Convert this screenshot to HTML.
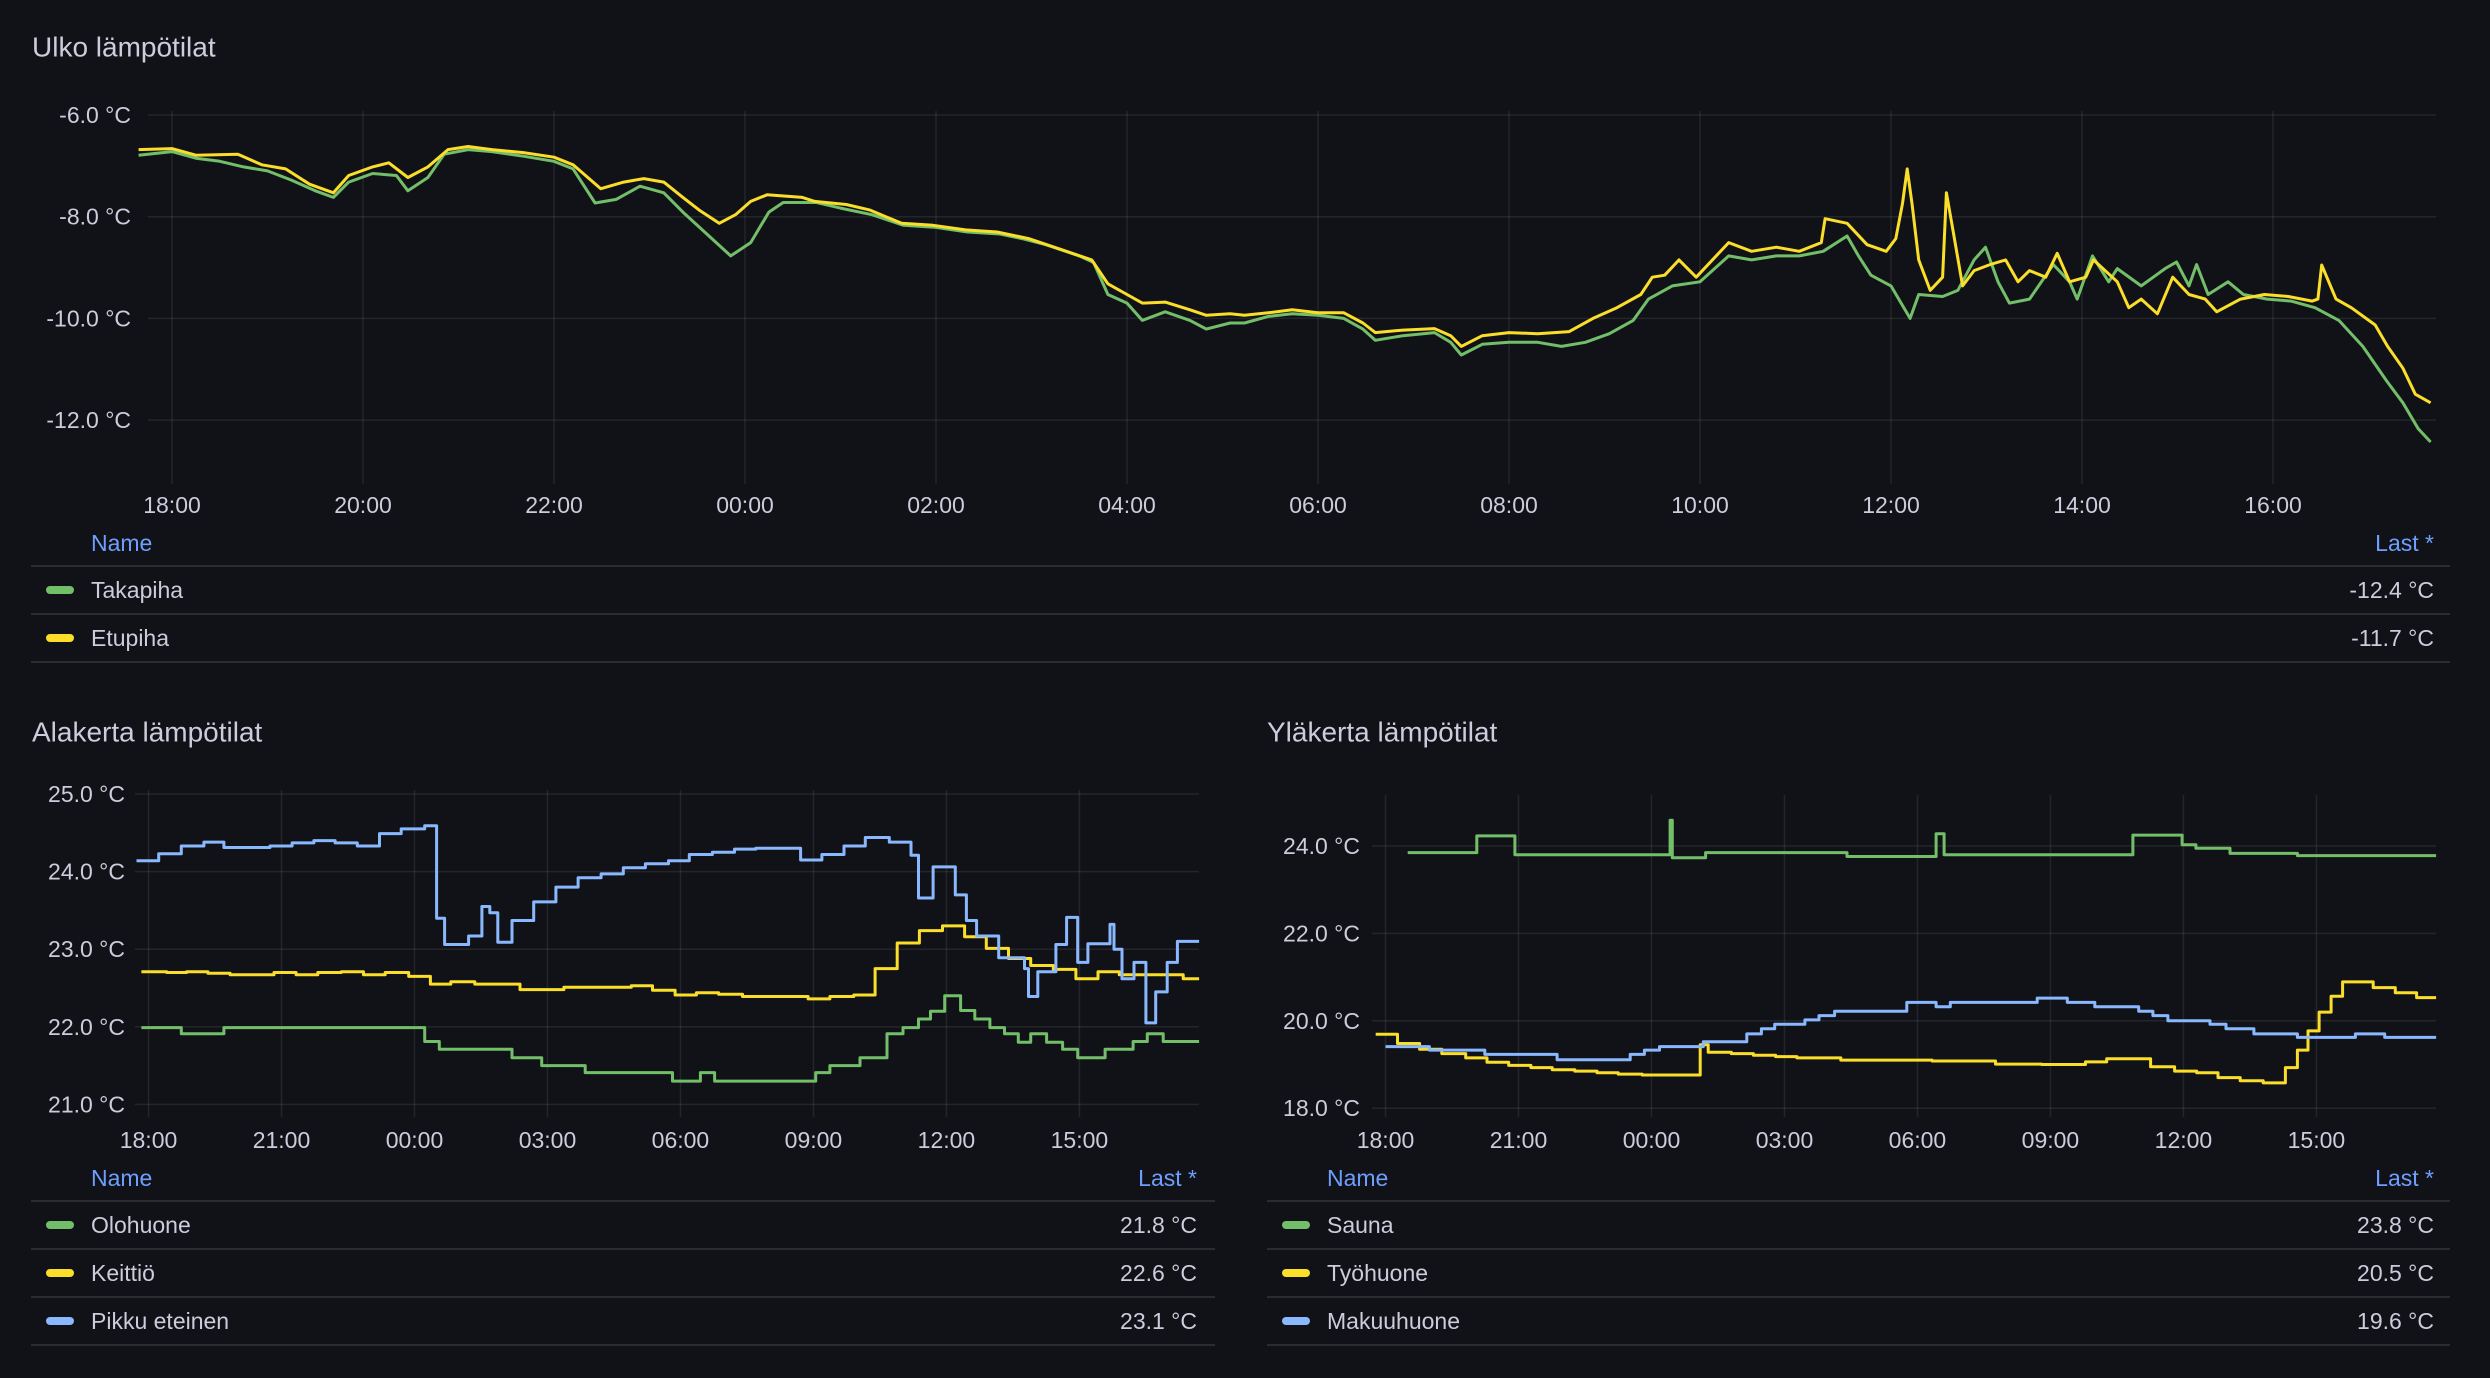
<!DOCTYPE html>
<html><head><meta charset="utf-8">
<style>
html,body{margin:0;padding:0;background:#111217;}
svg{display:block;font-family:"Liberation Sans",sans-serif;}
</style></head>
<body>
<svg id="root" width="2490" height="1378" viewBox="0 0 2490 1378" xmlns="http://www.w3.org/2000/svg">
<rect x="0" y="0" width="2490" height="1378" fill="#111217"/>
</svg>
<script>
// ---------- Data (hours since 18:00, value °C) ----------
const xTickLabelsTop = ["18:00","20:00","22:00","00:00","02:00","04:00","06:00","08:00","10:00","12:00","14:00","16:00"];
const yTicksTop = [-6,-8,-10,-12];
const takapihaH = [-0.35,0,0.25,0.5,0.75,1.0,1.25,1.5,1.69,1.85,2.1,2.35,2.47,2.68,2.85,3.1,3.35,3.68,4.0,4.2,4.43,4.65,4.9,5.15,5.35,5.6,5.85,6.06,6.25,6.4,6.75,7.0,7.33,7.66,8.0,8.33,8.67,8.9,9.15,9.5,9.65,9.8,10.0,10.16,10.4,10.66,10.83,11.08,11.23,11.48,11.73,12.0,12.27,12.47,12.6,12.89,13.22,13.39,13.5,13.72,14.0,14.3,14.55,14.8,15.05,15.3,15.46,15.71,16.0,16.3,16.54,16.8,17.04,17.29,17.54,17.66,17.79,18.0,18.2,18.29,18.54,18.7,18.87,18.99,19.12,19.24,19.45,19.7,19.87,19.95,20.11,20.28,20.37,20.62,20.87,20.99,21.12,21.2,21.32,21.53,21.69,21.94,22.19,22.44,22.69,22.94,23.19,23.36,23.52,23.65];
const takapihaV = [-6.79,-6.72,-6.85,-6.91,-7.02,-7.1,-7.28,-7.49,-7.62,-7.32,-7.15,-7.19,-7.49,-7.23,-6.77,-6.68,-6.72,-6.81,-6.91,-7.06,-7.73,-7.66,-7.4,-7.53,-7.91,-8.34,-8.77,-8.51,-7.91,-7.72,-7.72,-7.83,-7.96,-8.17,-8.21,-8.3,-8.34,-8.43,-8.55,-8.77,-8.9,-9.53,-9.7,-10.04,-9.87,-10.04,-10.21,-10.09,-10.09,-9.96,-9.91,-9.94,-10.0,-10.21,-10.43,-10.34,-10.28,-10.47,-10.72,-10.51,-10.47,-10.47,-10.55,-10.47,-10.3,-10.04,-9.62,-9.36,-9.28,-8.77,-8.85,-8.77,-8.77,-8.68,-8.38,-8.77,-9.15,-9.36,-10.0,-9.53,-9.57,-9.45,-8.85,-8.6,-9.28,-9.7,-9.62,-8.94,-9.28,-9.62,-8.77,-9.28,-9.02,-9.36,-9.02,-8.89,-9.36,-8.94,-9.53,-9.28,-9.53,-9.62,-9.66,-9.79,-10.04,-10.55,-11.23,-11.66,-12.17,-12.43];
const etupihaH = [-0.35,0,0.25,0.69,0.94,1.19,1.44,1.69,1.85,2.1,2.27,2.47,2.68,2.89,3.1,3.35,3.68,4.0,4.2,4.49,4.73,4.94,5.15,5.35,5.52,5.73,5.9,6.06,6.23,6.6,6.73,7.06,7.31,7.64,7.97,8.31,8.64,8.97,9.3,9.63,9.8,10.0,10.16,10.4,10.66,10.83,11.08,11.23,11.48,11.73,12.0,12.27,12.47,12.6,12.89,13.22,13.39,13.5,13.72,14.0,14.3,14.63,14.88,15.13,15.38,15.5,15.63,15.78,15.96,16.3,16.54,16.8,17.04,17.27,17.31,17.54,17.75,17.95,18.05,18.12,18.17,18.22,18.29,18.41,18.54,18.58,18.64,18.75,18.87,19.04,19.2,19.33,19.45,19.62,19.74,19.87,20.04,20.12,20.37,20.49,20.62,20.79,20.95,21.12,21.29,21.41,21.66,21.91,22.16,22.41,22.47,22.51,22.66,22.82,23.07,23.2,23.36,23.49,23.65];
const etupihaV = [-6.68,-6.66,-6.79,-6.77,-6.98,-7.06,-7.36,-7.53,-7.19,-7.02,-6.94,-7.23,-7.02,-6.68,-6.62,-6.68,-6.74,-6.83,-6.98,-7.45,-7.32,-7.25,-7.32,-7.62,-7.87,-8.13,-7.96,-7.7,-7.57,-7.62,-7.7,-7.76,-7.87,-8.13,-8.17,-8.26,-8.3,-8.43,-8.64,-8.85,-9.32,-9.53,-9.7,-9.68,-9.83,-9.94,-9.91,-9.94,-9.89,-9.83,-9.89,-9.89,-10.09,-10.28,-10.23,-10.2,-10.34,-10.55,-10.34,-10.28,-10.3,-10.26,-10.0,-9.79,-9.53,-9.19,-9.15,-8.85,-9.19,-8.51,-8.68,-8.6,-8.68,-8.51,-8.04,-8.13,-8.55,-8.68,-8.43,-7.74,-7.06,-7.74,-8.85,-9.45,-9.19,-7.53,-8.17,-9.36,-9.06,-8.94,-8.85,-9.28,-9.06,-9.19,-8.72,-9.28,-9.19,-8.85,-9.28,-9.79,-9.62,-9.91,-9.19,-9.53,-9.62,-9.87,-9.62,-9.53,-9.57,-9.66,-9.62,-8.95,-9.62,-9.79,-10.13,-10.55,-10.98,-11.49,-11.66,-11.73];

const xTickLabelsBottom = ["18:00","21:00","00:00","03:00","06:00","09:00","12:00","15:00"];
const yTicksAla = [25,24,23,22,21];
const olohuoneH = [-0.16,0.74,1.70,6.23,6.56,8.20,8.87,9.85,11.82,12.45,12.77,15.05,15.37,16.05,16.66,17.02,17.37,17.64,17.96,18.32,18.64,18.98,19.31,19.62,19.90,20.26,20.62,20.96,21.58,22.21,22.53,22.89];
const olohuoneV = [21.99,21.91,21.99,21.81,21.71,21.60,21.50,21.41,21.30,21.41,21.30,21.41,21.50,21.60,21.91,21.99,22.10,22.20,22.40,22.21,22.10,21.99,21.91,21.80,21.91,21.80,21.71,21.60,21.71,21.81,21.91,21.81];
const keittioH = [-0.16,0.41,0.86,1.34,1.84,2.83,3.33,3.82,4.35,4.85,5.34,5.87,6.36,6.82,7.36,8.38,9.37,10.89,11.37,11.88,12.36,12.86,13.40,14.88,15.37,15.91,16.39,16.89,17.39,17.91,18.41,18.90,19.40,19.90,20.41,20.92,21.42,21.90,23.34];
const keittioV = [22.71,22.70,22.71,22.69,22.67,22.70,22.67,22.70,22.71,22.67,22.70,22.65,22.55,22.58,22.55,22.48,22.51,22.53,22.47,22.41,22.44,22.42,22.39,22.36,22.39,22.41,22.75,23.08,23.24,23.30,23.16,23.01,22.88,22.79,22.74,22.62,22.71,22.67,22.62];
const pikkuH = [-0.27,0.23,0.74,1.25,1.70,2.74,3.24,3.73,4.21,4.71,5.21,5.70,6.23,6.50,6.68,7.22,7.52,7.70,7.88,8.20,8.69,9.19,9.69,10.21,10.71,11.21,11.73,12.20,12.72,13.22,13.70,14.71,15.19,15.69,16.17,16.71,17.20,17.37,17.70,18.20,18.45,18.68,19.18,19.76,19.85,20.06,20.47,20.71,20.96,21.19,21.69,21.78,21.96,22.23,22.50,22.72,22.98,23.21];
const pikkuV = [24.14,24.23,24.33,24.38,24.31,24.33,24.37,24.40,24.37,24.33,24.49,24.55,24.59,23.40,23.06,23.17,23.55,23.47,23.09,23.37,23.61,23.80,23.92,23.97,24.05,24.10,24.14,24.22,24.25,24.29,24.30,24.15,24.22,24.33,24.44,24.38,24.21,23.66,24.06,23.70,23.37,23.17,22.89,22.75,22.39,22.71,23.06,23.41,22.83,23.07,23.32,23.00,22.62,22.83,22.05,22.45,22.83,23.10];

const yTicksYla = [24,22,20,18];
const saunaH = [0.50,2.06,2.92,6.38,6.42,6.47,7.22,10.41,12.42,12.60,16.86,17.97,18.28,19.05,20.57];
const saunaV = [23.85,24.23,23.80,23.80,24.59,23.73,23.85,23.76,24.28,23.80,24.25,24.03,23.95,23.83,23.78];
const tyohuoneH = [-0.22,0.27,0.77,1.27,1.81,2.29,2.78,3.28,3.76,4.27,4.77,5.25,5.79,7.10,7.28,7.80,8.30,8.80,9.28,10.27,12.33,13.76,14.80,15.79,16.27,17.26,17.80,18.30,18.78,19.28,19.80,20.30,20.57,20.81,21.06,21.33,21.59,22.28,22.78,23.26];
const tyohuoneV = [19.69,19.48,19.35,19.25,19.15,19.05,18.98,18.93,18.88,18.85,18.81,18.78,18.76,19.45,19.28,19.25,19.21,19.18,19.15,19.10,19.08,19.01,19.00,19.06,19.13,18.95,18.85,18.81,18.70,18.63,18.58,18.93,19.33,19.77,20.20,20.56,20.89,20.76,20.64,20.53];
const makuuH = [0,0.99,2.24,3.87,5.52,5.84,6.18,7.17,8.15,8.48,8.78,9.46,9.78,10.13,11.76,12.42,12.74,14.70,15.38,16.0,16.99,17.31,17.65,18.60,18.96,19.59,20.57,21.88,22.54];
const makuuV = [19.41,19.33,19.23,19.11,19.23,19.33,19.41,19.52,19.70,19.82,19.92,20.02,20.12,20.22,20.42,20.32,20.42,20.52,20.42,20.32,20.22,20.12,20.00,19.92,19.82,19.70,19.62,19.70,19.62];

// ---------- Rendering ----------
const NS = "http://www.w3.org/2000/svg";
const root = document.getElementById("root");
const TXT = "#ccccdc", GRID = "rgba(204,204,220,0.10)", BORDER = "#2a2c32", HDR = "#6e9fff";
const GREEN = "#73bf69", YELLOW = "#fade2a", BLUE = "#8ab8ff";
function mk(tag, attrs, parent) {
  const e = document.createElementNS(NS, tag);
  for (const k in attrs) e.setAttribute(k, attrs[k]);
  (parent || root).appendChild(e);
  return e;
}
function text(parent, x, y, s, size, fill, anchor) {
  const t = mk("text", {x: x, y: y, "font-size": size, fill: fill, "text-anchor": anchor || "start", "dominant-baseline": "central"}, parent);
  t.textContent = s;
  return t;
}

function panel(cfg) {
  const g = mk("g", {});
  
  
  const title = text(g, cfg.titleX, cfg.titleY, cfg.title, 28, TXT);
  
  
  const xs = h => cfg.x0 + h * cfg.pxPerHour;
  const ys = v => cfg.yRef + (cfg.vRef - v) * cfg.pxPerDeg;
  // grid horizontal + y labels
  cfg.yTicks.forEach(v => {
    const y = ys(v);
    const l = mk("line", {x1: cfg.gridL, x2: cfg.gridR, y1: y, y2: y, stroke: GRID, "stroke-width": 1.5}, g);
    
    
    const t = text(g, cfg.labelR, y, v.toFixed(1) + " °C", 23, TXT, "end");
    
    
  });
  // vertical grid + x labels
  cfg.xLabels.forEach((s, i) => {
    const x = xs(i * cfg.tickStep);
    const l = mk("line", {x1: x, x2: x, y1: cfg.plotT, y2: cfg.plotB, stroke: GRID, "stroke-width": 1.5}, g);
    
    
    const t = text(g, x, cfg.xLabelY, s, 23, TXT, "middle");
    
    
  });
  // series
  cfg.series.forEach(s => {
    let d = "";
    for (let i = 0; i < s.h.length; i++) {
      const x = xs(s.h[i]), y = ys(s.v[i]);
      if (i === 0) d += "M" + x.toFixed(1) + "," + y.toFixed(1);
      else if (cfg.step) d += "H" + x.toFixed(1) + "V" + y.toFixed(1);
      else d += "L" + x.toFixed(1) + "," + y.toFixed(1);
    }
    if (cfg.step) d += "H" + xs(cfg.endH).toFixed(1);
    const p = mk("path", {d: d, fill: "none", stroke: s.color, "stroke-width": 3, "stroke-linejoin": "round"}, g);
    
    
  });
  // legend
  const lg = mk("g", {}, g);
  
  
  const hn = text(lg, cfg.legL + 60, cfg.legHdrY, "Name", 23, HDR);
  
  
  const hl = text(lg, cfg.valR, cfg.legHdrY, "Last *", 23, HDR, "end");
  
  
  let y = cfg.legHdrY + 23;
  const ln0 = mk("line", {x1: cfg.legL, x2: cfg.legR, y1: y, y2: y, stroke: BORDER, "stroke-width": 2}, lg);
  
  
  cfg.series.forEach(s => {
    const cy = y + 24;
    const row = mk("g", {}, lg);
    
    
    const sw = mk("rect", {x: cfg.legL + 15, y: cy - 4, width: 28, height: 8, rx: 4, fill: s.color}, row);
    
    
    const nt = text(row, cfg.legL + 60, cy, s.label, 23, TXT);
    
    
    const vt = text(row, cfg.valR, cy, s.v[s.v.length - 1].toFixed(1) + " °C", 23, TXT, "end");
    
    
    y += 48;
    const ln = mk("line", {x1: cfg.legL, x2: cfg.legR, y1: y, y2: y, stroke: BORDER, "stroke-width": 2}, lg);
    
    
  });
}

panel({
  name: "ulko-panel", title: "Ulko lämpötilat", titleX: 32, titleY: 47,
  x0: 172, pxPerHour: 95.5, yRef: 115, vRef: -6, pxPerDeg: 50.85,
  gridL: 148, gridR: 2436, labelR: 131, plotT: 111, plotB: 484, xLabelY: 505,
  yTicks: yTicksTop, xLabels: xTickLabelsTop, tickStep: 2, step: false,
  legL: 31, legR: 2450, valR: 2434, legHdrY: 543,
  series: [
    {key: "takapiha", label: "Takapiha", color: GREEN, h: takapihaH, v: takapihaV},
    {key: "etupiha", label: "Etupiha", color: YELLOW, h: etupihaH, v: etupihaV}
  ]
});
panel({
  name: "alakerta-panel", title: "Alakerta lämpötilat", titleX: 32, titleY: 732,
  x0: 148.5, pxPerHour: 44.33, yRef: 794, vRef: 25, pxPerDeg: 77.6,
  gridL: 135, gridR: 1199, labelR: 125, plotT: 790, plotB: 1117, xLabelY: 1140,
  yTicks: yTicksAla, xLabels: xTickLabelsBottom, tickStep: 3, step: true, endH: 23.7,
  legL: 31, legR: 1215, valR: 1197, legHdrY: 1178,
  series: [
    {key: "olohuone", label: "Olohuone", color: GREEN, h: olohuoneH, v: olohuoneV},
    {key: "keittio", label: "Keittiö", color: YELLOW, h: keittioH, v: keittioV},
    {key: "pikku-eteinen", label: "Pikku eteinen", color: BLUE, h: pikkuH, v: pikkuV}
  ]
});
panel({
  name: "ylakerta-panel", title: "Yläkerta lämpötilat", titleX: 1267, titleY: 732,
  x0: 1385.5, pxPerHour: 44.33, yRef: 846, vRef: 24, pxPerDeg: 43.7,
  gridL: 1372, gridR: 2436, labelR: 1360, plotT: 795, plotB: 1117, xLabelY: 1140,
  yTicks: yTicksYla, xLabels: xTickLabelsBottom, tickStep: 3, step: true, endH: 23.7,
  legL: 1267, legR: 2450, valR: 2434, legHdrY: 1178,
  series: [
    {key: "sauna", label: "Sauna", color: GREEN, h: saunaH, v: saunaV},
    {key: "tyohuone", label: "Työhuone", color: YELLOW, h: tyohuoneH, v: tyohuoneV},
    {key: "makuuhuone", label: "Makuuhuone", color: BLUE, h: makuuH, v: makuuV}
  ]
});
</script>
</body></html>
